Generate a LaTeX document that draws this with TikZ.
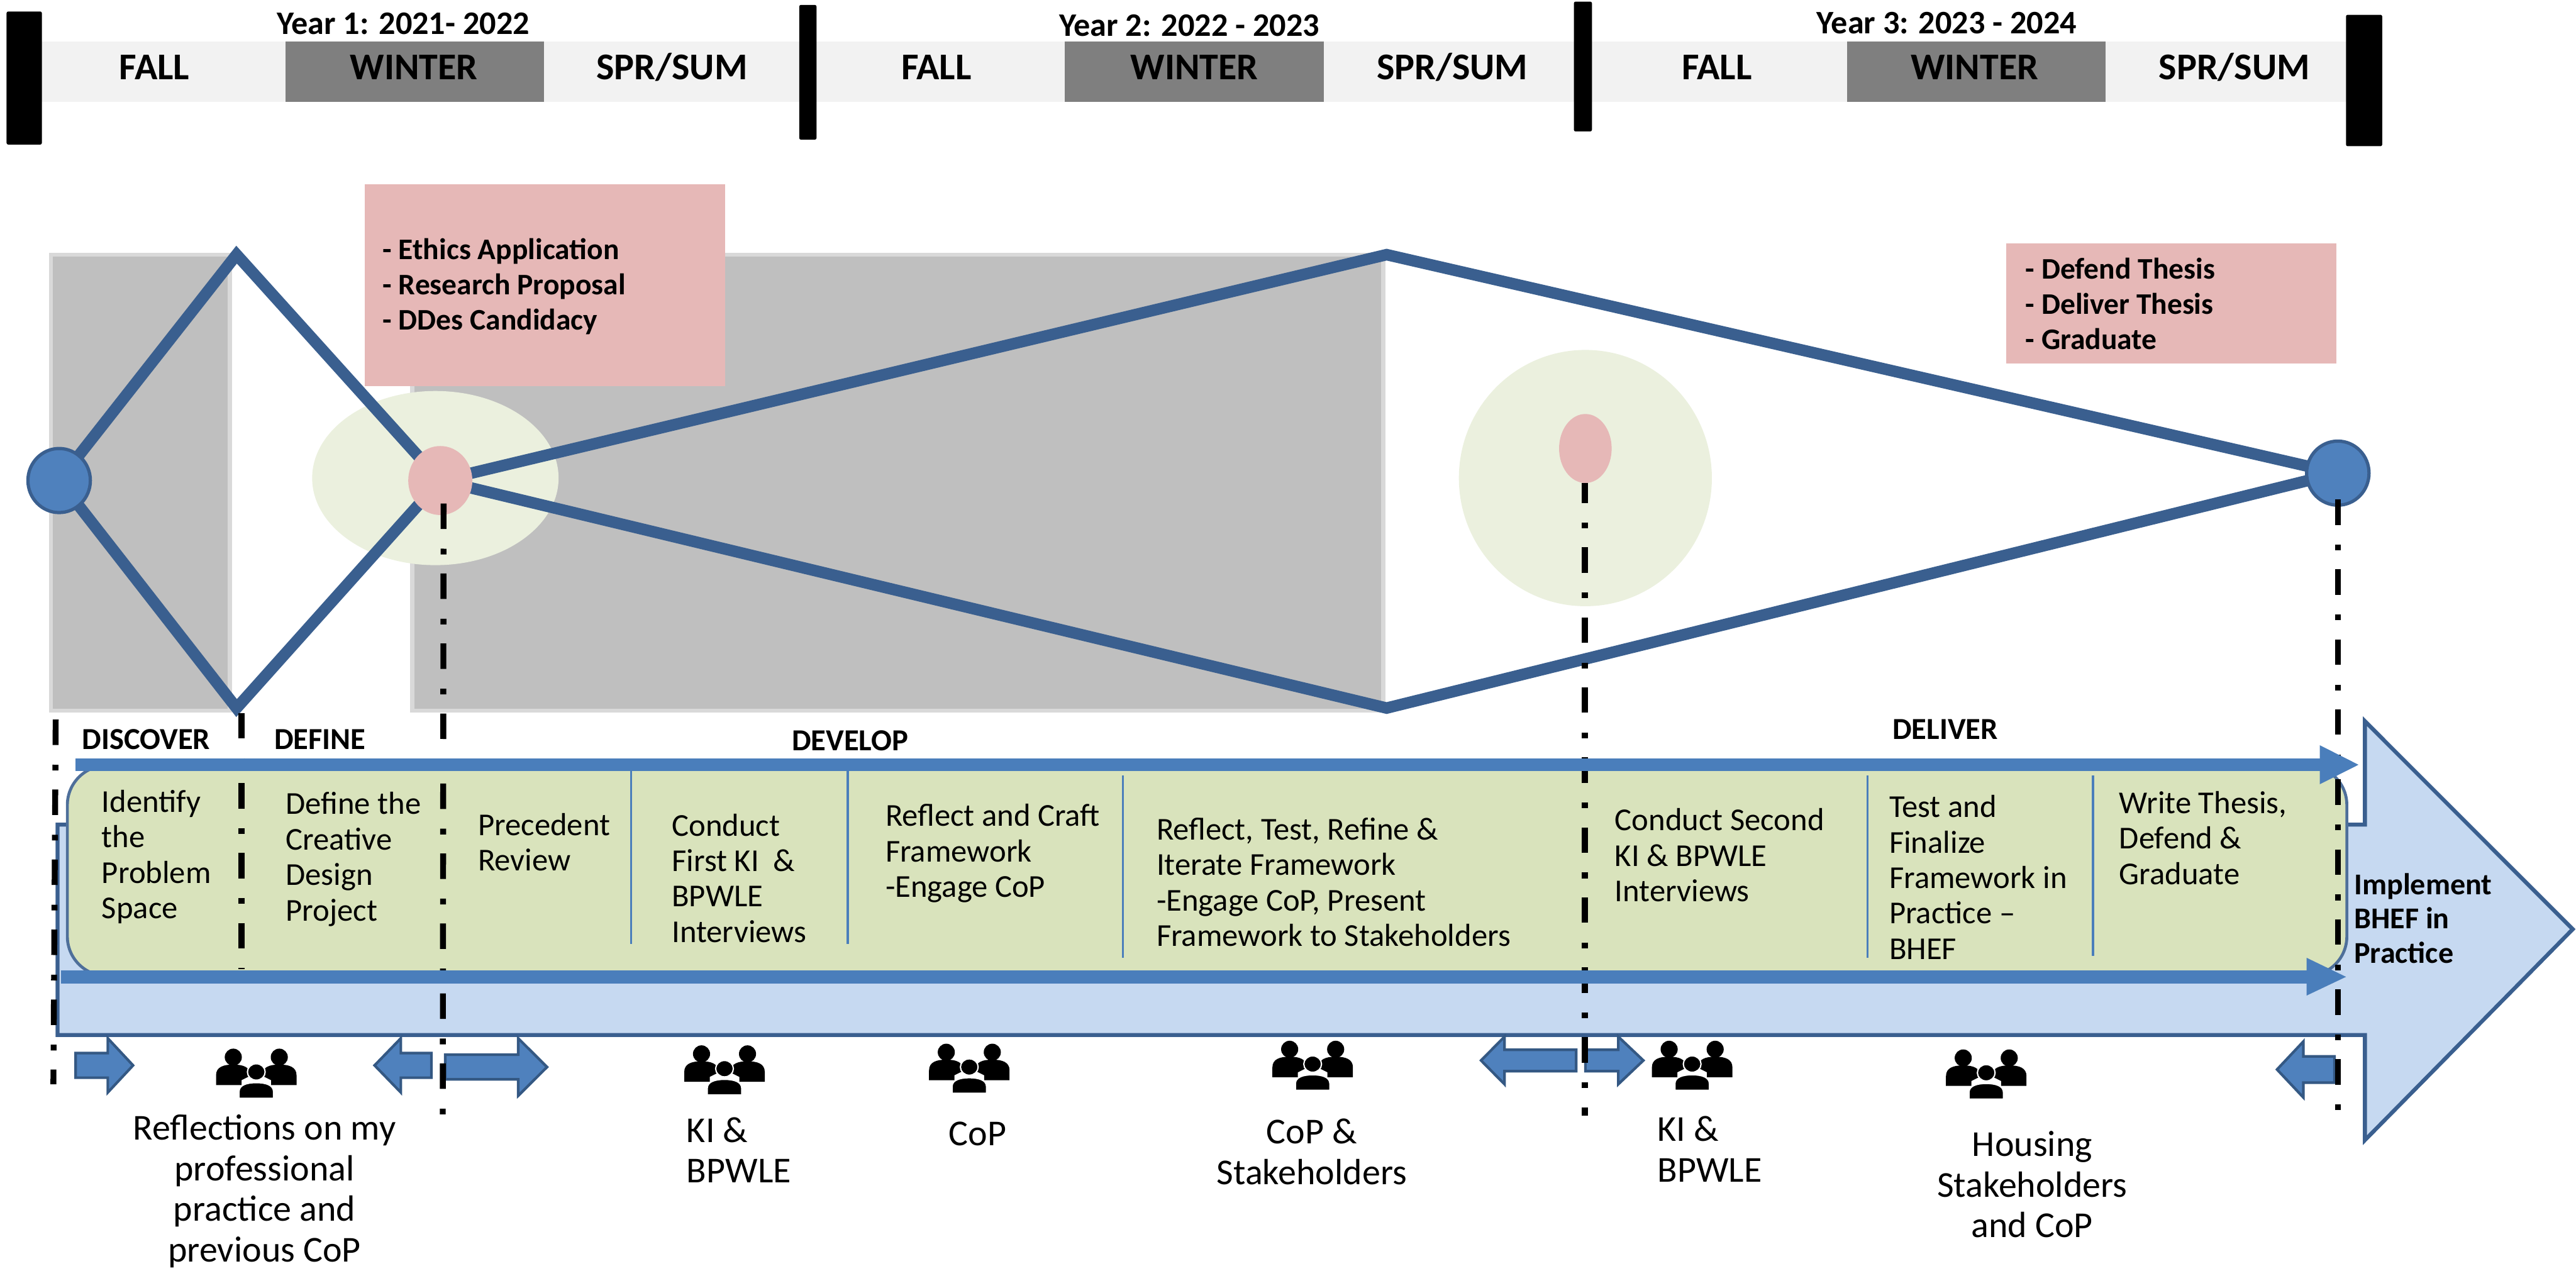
\documentclass[tikz,border=0pt]{standalone}
\usepackage{fontspec}
\setmainfont{Carlito}
\usetikzlibrary{calc}
\definecolor{dkline}{HTML}{3A5F8F}
\definecolor{midblue}{HTML}{4A7EBB}
\definecolor{circblue}{HTML}{4F81BD}
\definecolor{pinkbox}{HTML}{E6B8B7}
\definecolor{palegreen}{HTML}{EBF0DE}
\definecolor{boxgreen}{HTML}{D9E3BC}
\definecolor{lightblue}{HTML}{C6D9F1}
\definecolor{greyrect}{HTML}{BFBFBF}
\definecolor{greyedge}{HTML}{D9D9D9}
\definecolor{band}{HTML}{F2F2F2}
\definecolor{winter}{HTML}{7F7F7F}
\newcommand{\fs}[2]{\fontsize{#1}{#2}\selectfont}
\tikzset{
  bigline/.style={draw=dkline,line width=7pt,line join=miter},
  ticksep/.style={draw=midblue,line width=1.2pt},
  markline/.style={draw=black,line width=3.6pt,dash pattern=on 15.5pt off 12pt on 3.5pt off 11.6pt},
  txt/.style={inner sep=0pt,outer sep=0pt,anchor=west,align=left,text=black,font=\fs{19.4}{21.6}},
  capt/.style={inner sep=0pt,outer sep=0pt,align=center,text=black,font=\fs{22.2}{24.7}},
  phase/.style={inner sep=0pt,outer sep=0pt,anchor=west,text=black,font=\bfseries\fs{18.6}{20}},
  head/.style={inner sep=0pt,outer sep=0pt,text=black,font=\bfseries\fs{23}{24}},
  yearlbl/.style={inner sep=0pt,outer sep=0pt,text=black,font=\bfseries\fs{20}{20}},
  pinktxt/.style={inner sep=0pt,outer sep=0pt,anchor=west,align=left,text=black,font=\bfseries\fs{18.2}{21.5}},
  blockarrow/.style={fill=circblue,draw=midblue!70!black,line width=1.6pt,line join=miter},
  people/.pic={
    \fill (-14,-10) circle (5.2);
    \fill (14,-10) circle (5.2);
    \fill (-24.5,7) -- (-24.5,1) .. controls (-24.5,-4) and (-20,-5.5) .. (-14,-5.5) .. controls (-8,-5.5) and (-4,-4) .. (-3,1) -- (-9,4) -- (-9,7) -- cycle;
    \fill (24.5,7) -- (24.5,1) .. controls (24.5,-4) and (20,-5.5) .. (14,-5.5) .. controls (8,-5.5) and (4,-4) .. (3,1) -- (9,4) -- (9,7) -- cycle;
    \filldraw[draw=white,line width=.8pt] (0,-1) ellipse (5.4 and 5);
    \filldraw[draw=white,line width=.8pt] (-10.5,15) -- (-10.5,11) .. controls (-10.5,7) and (-6,5.5) .. (0,5.5) .. controls (6,5.5) and (10.5,7) .. (10.5,11) -- (10.5,15) -- cycle;
  }
}
\newcommand{\blockarr}[6]{% tail x, head-base x, tip x, y, shaft half, head half
  \draw[blockarrow] (#1,#4-#5) -- (#2,#4-#5) -- (#2,#4-#6) -- (#3,#4) -- (#2,#4+#6) -- (#2,#4+#5) -- (#1,#4+#5) -- cycle;}
\begin{document}
\begin{tikzpicture}[x=1pt,y=-1pt]
\useasboundingbox (0,0) rectangle (1568,773.3);
% top band
\node[fill=band,inner sep=0,minimum width=1403pt,minimum height=37pt,anchor=north west] (bandall) at (25,25) {};
\foreach \n/\x in {w1/173.5,w2/648,w3/1124}
  \node[fill=winter,inner sep=0,minimum width=157.5pt,minimum height=37pt,anchor=north west] (\n) at (\x,25) {};
\foreach \n/\a/\b/\c/\d in {b1/4/7/25.5/88,b2/486.5/3/497/85,b3/958/1/969/80,b4/1428/9/1450/89}
  \fill[black,rounded corners=1pt] (\a,\b) rectangle (\c,\d);
\foreach \n/\x/\t in {f1/94/FALL,f2/570/FALL,f3/1045/FALL,wt1/252/WINTER,wt2/727/WINTER,wt3/1202/WINTER,s1/409/SPR\slash SUM,s2/884/SPR\slash SUM,s3/1360/SPR\slash SUM}
  \node[head] (\n) at (\x,41) {\t};
\node[yearlbl] (y1) at (245.5,14.5) {Year 1: 2021- 2022};
\node[yearlbl] (y2) at (724,15.5) {Year 2: 2022 - 2023};
\node[yearlbl] (y3) at (1185,14) {Year 3: 2023 - 2024};
% grey panels
\draw[fill=greyrect,draw=greyedge,line width=2.5pt] (31,155) rectangle (140,432.5);
\draw[fill=greyrect,draw=greyedge,line width=2.5pt] (251,155) rectangle (842,432.5);
% pale ellipses
\fill[palegreen] (265,291) ellipse (75 and 53);
\fill[palegreen] (965,291) ellipse (77 and 78);
% coordinates of the double diamond
\coordinate (dT) at (144,155);
\coordinate (dB) at (144,431);
\coordinate (eT) at (844,155);
\coordinate (eB) at (844,431);
\coordinate (pkC) at (268,292.5);
\coordinate (stC) at (36,292.5);
\coordinate (enC) at (1423,288);
\draw[bigline] (stC) -- (dT) -- (pkC) -- (dB) -- cycle;
\draw[bigline] (pkC) -- (eT) -- (enC) -- (eB) -- cycle;
\fill[pinkbox] (pkC) ellipse (19.5 and 21);
\node[fill=pinkbox,inner sep=0,minimum width=219pt,minimum height=123pt,anchor=north west] (pb1) at (222,112) {};
\node[fill=pinkbox,inner sep=0,minimum width=201pt,minimum height=73pt,anchor=north west] (pb2) at (1221,148) {};
\fill[pinkbox] (965,273) ellipse (16 and 21);
\draw[fill=circblue,draw=dkline,line width=2pt] (stC) ellipse (19 and 19.5);
\draw[fill=circblue,draw=dkline,line width=2pt] (enC) ellipse (19 and 19.5);
\node[pinktxt] (pt1) at (233,174.5) {- Ethics Application\\- Research Proposal\\- DDes Candidacy};
\node[pinktxt] (pt2) at (1233,185) {- Defend Thesis\\- Deliver Thesis\\- Graduate};
% large arrow
\coordinate (aTL) at (35,502);
\coordinate (aBL) at (35,630);
\draw[draw=dkline,fill=lightblue,line width=2.4pt,line join=miter] (aTL) -- (1439.5,502) -- (1439.5,439) -- (1566,565.6) -- (1439.5,694) -- (1439.5,630) -- (aBL) -- cycle;
% green panel
\draw[fill=boxgreen,draw=dkline!90,line width=1.8pt,rounded corners=24pt] (41,466) rectangle (1428.5,594);
\foreach \n/\x/\a/\b in {c1/384/468/574.5,c2/516/468/574.5,c3/683.5/472/583,c4/1136.7/472/583,c5/1274/472/582}
  \draw[ticksep] (\x,\a) -- (\x,\b);
% block arrows
\blockarr{46}{65.6}{81}{648.5}{7.5}{16.5}
\blockarr{262.6}{244}{228}{648.5}{7.5}{16.5}
\blockarr{271}{315.4}{333}{649.5}{7.5}{17.5}
\blockarr{959.4}{915.8}{901.5}{645.5}{6.5}{14.5}
\blockarr{965}{985}{1000.3}{645.5}{6.5}{14.5}
\blockarr{1421}{1402}{1386}{651}{8}{17}
% dash-dot markers
\coordinate (m1a) at (33.9,438); \coordinate (m1b) at (32.5,660);
\coordinate (m2a) at (147,434); \coordinate (m2b) at (147,590);
\coordinate (m3a) at (270,306.5); \coordinate (m3b) at (269.5,680);
\coordinate (m4a) at (964.7,294); \coordinate (m4b) at (964.7,679);
\coordinate (m5a) at (1423,304); \coordinate (m5b) at (1423,680);
\foreach \p in {1,2,3,5} \draw[markline] (m\p a) -- (m\p b);
\draw[markline,dash phase=3.4pt] (m4a) -- (m4b);
% thick blue bars with arrowheads
\coordinate (t1) at (46,465.5); \coordinate (t2) at (1412,465.5); \coordinate (t3) at (1435.6,465.5);
\coordinate (u1) at (37,594.6); \coordinate (u2) at (1404,594.6); \coordinate (u3) at (1428,594.6);
\draw[midblue,line width=8pt] (t1) -- (t2);
\fill[midblue] (1412,453.6) -- (t3) -- (1412,477.4) -- cycle;
\draw[midblue,line width=8pt] (u1) -- (u2);
\fill[midblue] (1404,583) -- (u3) -- (1404,606) -- cycle;
% phase labels
\node[phase] (l1) at (50,450) {DISCOVER};
\node[phase] (l2) at (167,450) {DEFINE};
\node[phase] (l3) at (482,451) {DEVELOP};
\node[phase] (l4) at (1152,444) {DELIVER};
% column texts
\node[txt] (t01) at (62,521.5) {Identify\\the\\Problem\\Space};
\node[txt] (t02) at (174,523) {Define the\\Creative\\Design\\Project};
\node[txt] (t03) at (291,512.5) {Precedent\\Review};
\node[txt] (t04) at (409,534.5) {Conduct\\First KI~~\&\\BPWLE\\Interviews};
\node[txt] (t05) at (539,519.5) {Reflect and Craft\\Framework\\-Engage CoP};
\node[txt] (t06) at (704,537) {Reflect, Test, Refine \&\\Iterate Framework\\-Engage CoP, Present\\Framework to Stakeholders};
\node[txt] (t07) at (983,520.5) {Conduct Second\\KI \& BPWLE\\Interviews};
\node[txt] (t08) at (1150,534) {Test and\\Finalize\\Framework in\\Practice --\\BHEF};
\node[txt] (t09) at (1290,510) {Write Thesis,\\Defend \&\\Graduate};
\node[txt,font=\bfseries\fs{18.4}{21}] (t10) at (1433,559) {Implement\\BHEF in\\Practice};
% people
\pic at (156,653.5) {people};
\pic at (441,651.5) {people};
\pic at (590,650.5) {people};
\pic at (799,648.7) {people};
\pic at (1030,648.7) {people};
\pic at (1209,654) {people};
% captions
\node[capt] (c01) at (161,725) {Reflections on my\\professional\\practice and\\previous CoP};
\node[capt,align=left,anchor=west] (c02) at (418,700) {KI \&\\BPWLE};
\node[capt] (c03) at (595,690) {CoP};
\node[capt] (c04) at (798.5,701) {CoP \&\\Stakeholders};
\node[capt,align=left,anchor=west] (c05) at (1009,699.5) {KI \&\\BPWLE};
\node[capt] (c06) at (1237,721) {Housing\\Stakeholders\\and CoP};
\end{tikzpicture}
\end{document}
